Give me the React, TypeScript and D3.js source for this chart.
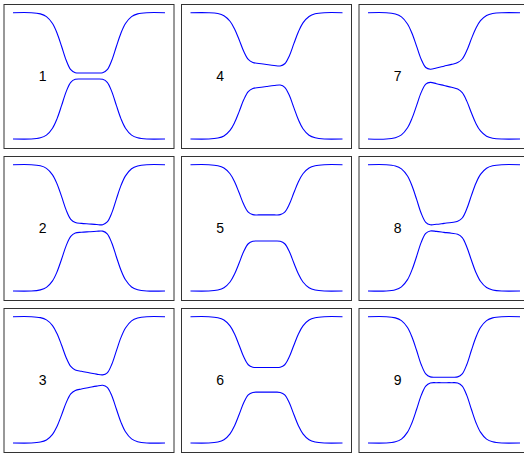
import React from "react";
import * as d3 from "d3";

// shared x positions of the sampled points
const xGrid = [0, 12, 18, 22, 26, 29, 32, 35, 38, 41, 45, 50, 55, 59, 62, 65, 68, 71, 74, 78, 82, 88, 100];

const panelLabels = ["1", "2", "3", "4", "5", "6", "7", "8", "9"];

const upper1 = [1, 1, 0.981, 0.938, 0.828, 0.675, 0.465, 0.246, 0.098, 0.05, 0.045, 0.045, 0.045, 0.05, 0.098, 0.246, 0.465, 0.675, 0.828, 0.938, 0.981, 1, 1];
const lower1 = [-1, -1, -0.981, -0.938, -0.829, -0.677, -0.468, -0.25, -0.102, -0.055, -0.05, -0.05, -0.05, -0.055, -0.102, -0.25, -0.468, -0.677, -0.829, -0.938, -0.981, -1, -1];

const upper2 = [1, 1, 0.982, 0.942, 0.839, 0.695, 0.494, 0.281, 0.135, 0.084, 0.071, 0.062, 0.053, 0.05, 0.093, 0.237, 0.456, 0.668, 0.823, 0.936, 0.98, 1, 1];
const lower2 = [-1, -1, -0.982, -0.942, -0.839, -0.695, -0.494, -0.281, -0.135, -0.082, -0.07, -0.062, -0.055, -0.052, -0.095, -0.239, -0.457, -0.668, -0.823, -0.936, -0.98, -1, -1];

const upper3 = [1, 1, 0.985, 0.95, 0.86, 0.73, 0.548, 0.351, 0.212, 0.157, 0.135, 0.113, 0.091, 0.079, 0.111, 0.247, 0.459, 0.668, 0.821, 0.934, 0.979, 1, 1];
const lower3 = [-1, -1, -0.985, -0.951, -0.862, -0.735, -0.554, -0.361, -0.222, -0.167, -0.145, -0.122, -0.099, -0.085, -0.118, -0.252, -0.462, -0.669, -0.822, -0.935, -0.98, -1, -1];

const upper4 = [1, 1, 0.986, 0.952, 0.865, 0.743, 0.572, 0.388, 0.26, 0.212, 0.196, 0.18, 0.165, 0.157, 0.192, 0.316, 0.51, 0.699, 0.839, 0.941, 0.982, 1, 1];
const lower4 = [-1, -1, -0.985, -0.952, -0.864, -0.74, -0.566, -0.38, -0.25, -0.201, -0.185, -0.169, -0.154, -0.146, -0.181, -0.308, -0.503, -0.696, -0.837, -0.94, -0.981, -1, -1];

const upper5 = [1, 1, 0.984, 0.948, 0.857, 0.73, 0.555, 0.372, 0.249, 0.209, 0.205, 0.205, 0.205, 0.209, 0.249, 0.372, 0.555, 0.73, 0.857, 0.948, 0.984, 1, 1];
const lower5 = [-1, -1, -0.984, -0.949, -0.858, -0.73, -0.557, -0.374, -0.252, -0.212, -0.208, -0.208, -0.208, -0.212, -0.252, -0.374, -0.557, -0.73, -0.858, -0.949, -0.984, -1, -1];

const upper6 = [1, 1, 0.984, 0.948, 0.855, 0.726, 0.549, 0.364, 0.239, 0.199, 0.195, 0.195, 0.195, 0.199, 0.239, 0.364, 0.549, 0.726, 0.855, 0.948, 0.984, 1, 1];
const lower6 = [-1, -1, -0.984, -0.948, -0.855, -0.726, -0.549, -0.364, -0.239, -0.199, -0.195, -0.195, -0.195, -0.199, -0.239, -0.364, -0.549, -0.726, -0.855, -0.948, -0.984, -1, -1];

const upper7 = [1, 1, 0.979, 0.934, 0.822, 0.67, 0.467, 0.262, 0.132, 0.104, 0.124, 0.153, 0.182, 0.21, 0.267, 0.4, 0.585, 0.754, 0.873, 0.956, 0.987, 1, 1];
const lower7 = [-1, -1, -0.979, -0.934, -0.822, -0.67, -0.467, -0.262, -0.132, -0.104, -0.124, -0.153, -0.182, -0.21, -0.267, -0.4, -0.585, -0.754, -0.873, -0.956, -0.987, -1, -1];

const upper8 = [1, 1, 0.98, 0.934, 0.82, 0.662, 0.45, 0.23, 0.088, 0.049, 0.056, 0.071, 0.086, 0.103, 0.156, 0.302, 0.51, 0.706, 0.846, 0.945, 0.983, 1, 1];
const lower8 = [-1, -1, -0.98, -0.934, -0.82, -0.662, -0.45, -0.23, -0.088, -0.049, -0.056, -0.071, -0.086, -0.103, -0.156, -0.302, -0.51, -0.706, -0.846, -0.945, -0.983, -1, -1];

const upper9 = [1, 1, 0.981, 0.938, 0.828, 0.674, 0.464, 0.243, 0.095, 0.047, 0.042, 0.042, 0.042, 0.047, 0.095, 0.243, 0.464, 0.674, 0.828, 0.938, 0.981, 1, 1];
const lower9 = [-1, -1, -0.981, -0.938, -0.828, -0.675, -0.465, -0.246, -0.098, -0.05, -0.045, -0.045, -0.045, -0.05, -0.098, -0.246, -0.465, -0.675, -0.828, -0.938, -0.981, -1, -1];

const upperSeries = [upper1, upper2, upper3, upper4, upper5, upper6, upper7, upper8, upper9];
const lowerSeries = [lower1, lower2, lower3, lower4, lower5, lower6, lower7, lower8, lower9];

const labelX = 19.5;
const labelY = -0.01;

const W = 524;
const H = 453;
const PANEL_W = 170;
const PANEL_H = 144;
const COL_STEP = 177.5;
const ROW_STEP = 152;
const ORIGIN_X = 4;
const ORIGIN_Y = 4;

function Panel({ idx }: { idx: number }) {
  const col = Math.floor(idx / 3);
  const row = idx % 3;
  const left = ORIGIN_X + col * COL_STEP;
  const top = ORIGIN_Y + row * ROW_STEP;
  const x = d3.scaleLinear().domain([0, 100]).range([left + 9, left + 161]);
  const y = d3.scaleLinear().domain([-1, 1]).range([top + 135, top + 8.7]);
  const line = d3
    .line<number>()
    .x((_, i) => x(xGrid[i]))
    .y((v) => y(v))
    .curve(d3.curveCatmullRom.alpha(0.5));
  return (
    <g>
      <rect
        x={left}
        y={top + 0.5}
        width={PANEL_W}
        height={PANEL_H}
        fill="white"
        stroke="#333"
        strokeWidth={1}
      />
      <path d={line(upperSeries[idx]) || ""} fill="none" stroke="#0000ff" strokeWidth={1.1} />
      <path d={line(lowerSeries[idx]) || ""} fill="none" stroke="#0000ff" strokeWidth={1.1} />
      <text
        x={x(labelX)}
        y={y(labelY)}
        textAnchor="middle"
        dominantBaseline="central"
        fontFamily="Liberation Sans, Arial, sans-serif"
        fontSize={14}
        fill="#000"
      >
        {panelLabels[idx]}
      </text>
    </g>
  );
}

export default function App() {
  return (
    <svg
      width={W}
      height={H}
      style={{ position: "absolute", left: 0, top: 0, background: "white" }}
    >
      {panelLabels.map((_, i) => (
        <Panel key={i} idx={i} />
      ))}
    </svg>
  );
}
